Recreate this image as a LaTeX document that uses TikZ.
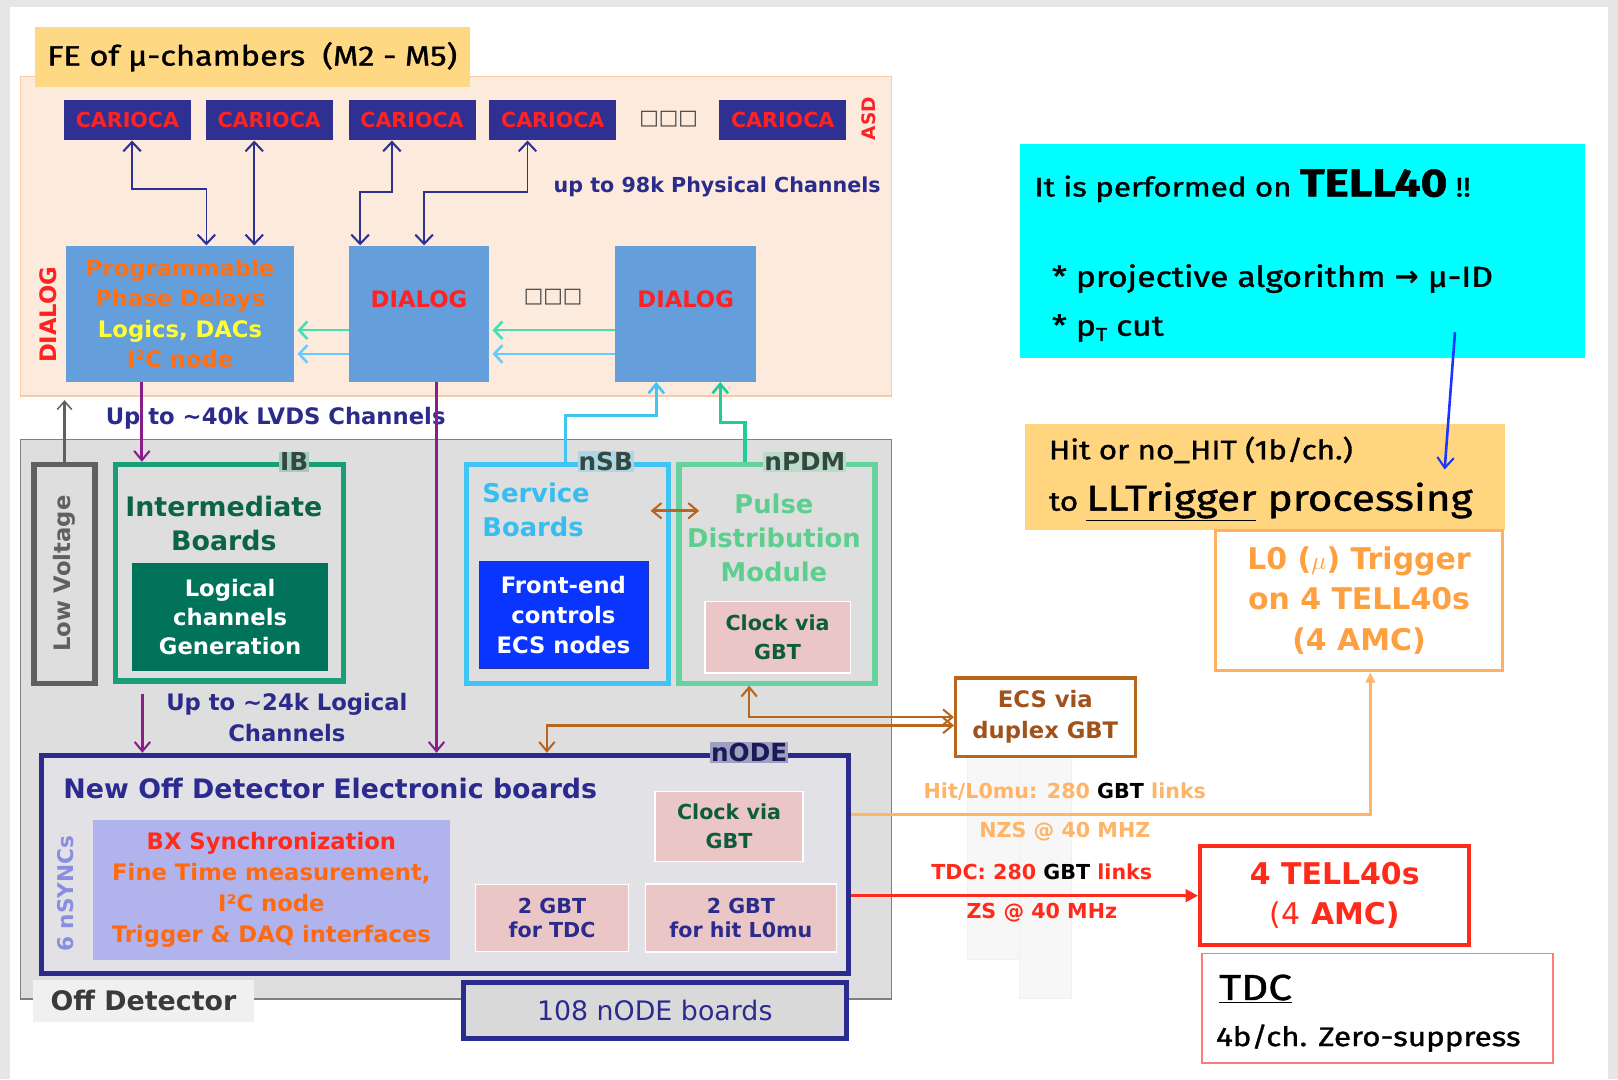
\documentclass[tikz,border=0pt]{standalone}
\usepackage{fontspec}
\setmainfont{DejaVu Sans}
\newfontfamily\rfont{Fira Sans}[FakeBold=1.2, FakeStretch=1.17]
\usetikzlibrary{arrows.meta,positioning}

\newcommand{\fsz}[2]{\fontsize{#1}{#2}\selectfont}

\definecolor{slidegray}{HTML}{E6E6E6}
\definecolor{cariocablue}{HTML}{2E3192}
\definecolor{navytext}{HTML}{2B2B8C}
\definecolor{asdred}{HTML}{FF2222}
\definecolor{dialogblue}{HTML}{649FDC}
\definecolor{peach}{HTML}{FCEADC}
\definecolor{peachline}{HTML}{F8C9A2}
\definecolor{titleorange}{HTML}{FFD884}
\definecolor{progorange}{HTML}{FF7014}
\definecolor{logicyellow}{HTML}{FFFF33}
\definecolor{arrowteal}{HTML}{44E0B4}
\definecolor{arrowsky}{HTML}{66CCFF}
\definecolor{purplelink}{HTML}{8A1C8C}
\definecolor{offgray}{HTML}{DEDEDE}
\definecolor{offline}{HTML}{808080}
\definecolor{lvgray}{HTML}{606060}
\definecolor{tagtext}{HTML}{34483F}
\definecolor{ibgreen}{HTML}{1A9E78}
\definecolor{ibdark}{HTML}{00735A}
\definecolor{ibtext}{HTML}{0B6446}
\definecolor{sbblue}{HTML}{3FC4F4}
\definecolor{sbtext}{HTML}{38BDF0}
\definecolor{feblue}{HTML}{0A35FF}
\definecolor{pdmgreen}{HTML}{66D39E}
\definecolor{pdmtext}{HTML}{5CCF8E}
\definecolor{uplinkgreen}{HTML}{22CC99}
\definecolor{gbtpink}{HTML}{EBC6C6}
\definecolor{clocktext}{HTML}{0D5C3C}
\definecolor{ecsbrown}{HTML}{B8651D}
\definecolor{ecstext}{HTML}{A0521A}
\definecolor{nodeblue}{HTML}{2B2B8F}
\definecolor{nodefill}{HTML}{E2E2E6}
\definecolor{boardgray}{HTML}{D9D9D9}
\definecolor{bxlav}{HTML}{B1B4EC}
\definecolor{syncslav}{HTML}{8A8EE0}
\definecolor{bxred}{HTML}{FF2A1A}
\definecolor{bxorange}{HTML}{FF6A10}
\definecolor{hitorange}{HTML}{FFB466}
\definecolor{tellred}{HTML}{FF2A1A}
\definecolor{tdcline}{HTML}{FF7A7A}
\definecolor{lzeroline}{HTML}{FFB060}
\definecolor{lzerotext}{HTML}{FFA040}
\definecolor{hitfill}{HTML}{FFD580}
\definecolor{tellcyan}{HTML}{00FFFF}
\definecolor{algoblue}{HTML}{1A35FF}
\definecolor{offlabel}{HTML}{F0F0F0}
\definecolor{offtext}{HTML}{3A3A3A}

\begin{document}
\begin{tikzpicture}[x=1pt, y=-1pt,
    carioca/.style={rectangle, fill=cariocablue, text=asdred, font=\bfseries\fsz{20}{22}, minimum width=123pt, minimum height=39pt, inner sep=0pt},
    dialog/.style={rectangle, fill=dialogblue, minimum height=132pt, inner sep=0pt},
    dlabel/.style={text=asdred, font=\bfseries\fsz{22}{22}},
    vlabel/.style={rotate=90, text=asdred, font=\bfseries\fsz{18}{18}},
    boxdots/.style={text=black!75, font=\fsz{20}{20}},
    board/.style={rectangle, line width=5pt, fill=offgray, minimum height=212pt, inner sep=0pt},
    tag/.style={text=tagtext, font=\bfseries\fsz{24}{24}, inner sep=1pt},
    pinkbox/.style={rectangle, fill=gbtpink, draw=white, line width=1.5pt, align=center, inner sep=0pt, font=\bfseries\fsz{20}{28}},
    note/.style={text=navytext, font=\bfseries\fsz{20}{30}},
    link/.style={<->, >={Straight Barb[length=9pt,width=17pt,line width=2pt]}, draw=cariocablue, line width=1.5pt},
    dlink/.style={->, >={Straight Barb[length=8pt,width=17pt,line width=2.5pt]}, line width=2.5pt, shorten >=3pt},
    purp/.style={->, >={Straight Barb[length=9pt,width=15pt,line width=2pt]}, draw=purplelink, line width=3pt},
    uplink/.style={->, >={Straight Barb[length=9pt,width=15pt,line width=2.5pt]}, line width=3pt},
    ecslink/.style={<->, >={Straight Barb[length=9pt,width=15pt,line width=2pt]}, draw=ecsbrown, line width=2.5pt},
    hitlink/.style={->, >={Triangle[length=10pt,width=9pt]}, draw=hitorange, line width=3pt},
    tdclink/.style={->, >={Triangle[length=12pt,width=12pt]}, draw=tellred, line width=3pt},
    ghost/.style={fill=black!3, draw=black!6, line width=1pt}]

    \useasboundingbox (0,0) rectangle (1568,1046);
    \fill[slidegray] (0,0) rectangle (1568,1046);
    \fill[white] (10,7) rectangle (1558,1046);

    % front end on the chambers
    \node[draw=peachline, fill=peach, line width=1.5pt, minimum width=844pt, minimum height=310pt, inner sep=0pt] (fe) at (442,229) {};
    \node[fill=titleorange, minimum width=421pt, minimum height=58pt, inner sep=0pt, font=\rfont\fsz{27}{27}] (title) at (244.5,55) {FE of µ-chambers\ \ (M2 - M5)};

    \node[carioca] (car1) at (123.5,116.5) {CARIOCA};
    \node[carioca, right=14pt of car1] (car2) {CARIOCA};
    \node[carioca, right=15pt of car2] (car3) {CARIOCA};
    \node[carioca, right=13pt of car3] (car4) {CARIOCA};
    \node[boxdots] (cdots) at (648,115) {□□□};
    \node[carioca] (car6) at (758.5,116.5) {CARIOCA};
    \node[vlabel] (asd) at (842,115) {ASD};

    \node[note, anchor=west] (phys) at (533,181) {up to 98k Physical Channels};

    \node[dialog, minimum width=221pt, align=center, font=\bfseries\fsz{22}{29.5}] (dia1) at (174.5,304)
        {\textcolor{progorange}{Programmable}\\ \textcolor{progorange}{Phase Delays}\\ \textcolor{logicyellow}{Logics, DACs}\\ \textcolor{progorange}{I²C node}};
    \node[dialog, minimum width=136pt] (dia2) at (406,304) {};
    \node[boxdots] (ddots) at (536,288) {□□□};
    \node[dialog, minimum width=137pt] (dia3) at (664.5,304) {};
    \node[dlabel] at ([yshift=14pt]dia2.center) {DIALOG};
    \node[dlabel] at ([yshift=14pt]dia3.center) {DIALOG};
    \node[vlabel, font=\bfseries\fsz{22}{22}] (dialogv) at (47,305) {DIALOG};

    % off detector part
    \node[draw=offline, fill=offgray, line width=1.5pt, minimum width=844pt, minimum height=542pt, inner sep=0pt] (off) at (442,697) {};
    \node[fill=offlabel, minimum width=214pt, minimum height=40pt, inner sep=0pt, text=offtext, font=\bfseries\fsz{26}{26}] (offlbl) at (139,970) {Off Detector};
    \node[note, anchor=west, font=\bfseries\fsz{22}{30}] (lvds) at (99,405) {Up to \textasciitilde40k LVDS Channels};

    \node[draw=lvgray, line width=5pt, fill=offgray, minimum width=59pt, minimum height=212pt, inner sep=0pt] (lowv) at (62.5,556) {};
    \node[rotate=90, text=lvgray, font=\bfseries\fsz{22}{22}] at (lowv.center) {Low Voltage};

    \node[board, draw=ibgreen, minimum width=221pt, minimum height=210pt] (ib) at (222.5,555) {};
    \node[tag, fill=ibgreen!30!offgray] at ([xshift=62.5pt]ib.north) {IB};
    \node[align=center, text=ibtext, font=\bfseries\fsz{26}{33}] at (217,507) {Intermediate\\Boards};
    \node[fill=ibdark, minimum width=190pt, minimum height=104pt, inner sep=0pt, text=white, align=center, font=\bfseries\fsz{22}{28.5}] (logic) at (223,598) {Logical\\channels\\Generation};

    \node[board, draw=sbblue, minimum width=196pt] (nsb) at (550,556) {};
    \node[tag, fill=sbblue!30!offgray] at ([xshift=37pt]nsb.north) {nSB};
    \node[anchor=west, align=left, text=sbtext, font=\bfseries\fsz{25}{33}] at (464,494) {Service\\Boards};
    \node[fill=feblue, draw=cariocablue, minimum width=164pt, minimum height=104pt, inner sep=0pt, text=white, align=center, font=\bfseries\fsz{22}{29}] (fecs) at (546,596) {Front-end\\controls\\ECS nodes};

    \node[board, draw=pdmgreen, minimum width=190pt] (npdm) at (753,556) {};
    \node[tag, fill=pdmgreen!30!offgray] at ([xshift=27pt]npdm.north) {nPDM};
    \node[align=center, text=pdmtext, font=\bfseries\fsz{25}{33}] at (750,521) {Pulse\\Distribution\\Module};
    \node[pinkbox, minimum width=141pt, minimum height=69pt, text=clocktext] (clk1) at (753.5,617.5) {Clock via\\GBT};

    \node[note, align=center, font=\bfseries\fsz{22}{30}] (logical) at (278,695) {Up to \textasciitilde24k Logical\\Channels};

    % nODE boards
    \node[draw=nodeblue, line width=5pt, fill=nodefill, minimum width=782pt, minimum height=211pt, inner sep=0pt] (ode) at (431,837.5) {};
    \node[tag, fill=nodeblue!35!offgray, text=nodeblue!60!black] at ([xshift=295pt]ode.north) {nODE};
    \node[anchor=west, text=nodeblue, font=\bfseries\fsz{26}{26}] at (58,764) {New Off Detector Electronic boards};
    \node[rotate=90, text=syncslav, font=\bfseries\fsz{21}{21}] at (64,866) {6 nSYNCs};
    \node[fill=bxlav, minimum width=346pt, minimum height=135pt, inner sep=0pt, align=center, font=\bfseries\fsz{22}{30}] (bx) at (263,862.5)
        {\textcolor{bxred}{BX Synchronization}\\ \textcolor{bxorange}{Fine Time measurement,}\\ \textcolor{bxorange}{I²C node}\\ \textcolor{bxorange}{Trigger \& DAQ interfaces}};
    \node[pinkbox, minimum width=143pt, minimum height=68pt, text=clocktext] (clk2) at (706.5,801) {Clock via\\GBT};
    \node[pinkbox, minimum width=148pt, minimum height=65pt, text=navytext, font=\bfseries\fsz{20}{24}] (gbt1) at (535,889.5) {2 GBT\\for TDC};
    \node[pinkbox, minimum width=185pt, minimum height=66pt, text=navytext, font=\bfseries\fsz{20}{24}, right=15pt of gbt1] (gbt2) {2 GBT\\for hit L0mu};
    \node[draw=nodeblue, line width=5pt, fill=boardgray, minimum width=371pt, minimum height=54pt, inner sep=0pt, text=nodeblue, font=\fsz{26}{26}] (b108) at (634.5,979) {108 nODE boards};

    % TELL40 side
    \fill[ghost] (938,733) rectangle (988,930);
    \fill[ghost] (988,733) rectangle (1038,968);
    \node[draw=ecsbrown, line width=3pt, fill=white, minimum width=174pt, minimum height=76pt, inner sep=0pt, text=ecstext, align=center, font=\bfseries\fsz{22}{30}] (ecs) at (1013,695) {ECS via\\duplex GBT};

    \node[fill=tellcyan, minimum width=548pt, minimum height=207pt, inner sep=0pt] (cyan) at (1262,243.5) {};
    \node[anchor=west, font=\rfont\fsz{26}{26}] at (999,180) {It is performed on {\bfseries\fsz{38}{38}TELL40} !!};
    \node[anchor=west, font=\rfont\fsz{28}{28}] at (1016,270) {* projective algorithm {\normalfont\bfseries →} µ-ID};
    \node[anchor=west, font=\rfont\fsz{28}{28}] at (1016,318) {* p\raisebox{-5pt}{\fsz{18}{18}T} cut};

    \node[fill=hitfill, minimum width=465pt, minimum height=103pt, inner sep=0pt] (hit) at (1225.5,462.5) {};
    \node[anchor=west, font=\rfont\fsz{26}{26}] at (1013,436) {Hit or no\_HIT (1b/ch.)};
    \node[anchor=west, font=\rfont\fsz{26}{26}] at (1013,486) {to {\fsz{35}{35}\underline{LLTrigger} processing}};

    \node[draw=lzeroline, line width=3pt, fill=white, minimum width=278pt, minimum height=136pt, inner sep=0pt, text=lzerotext, align=center, font=\bfseries\fsz{29}{39}] (lzero) at (1317,582) {L0 ({\mdseries$\mu$}) Trigger\\on 4 TELL40s\\(4 AMC)};
    \node[draw=tellred, line width=4pt, fill=white, minimum width=261pt, minimum height=96pt, inner sep=0pt, text=tellred, align=center, font=\bfseries\fsz{29}{39}] (tell4) at (1293.5,868) {4 TELL40s\\{\mdseries(4} AMC)};
    \node[draw=tdcline, line width=1.5pt, fill=white, minimum width=340pt, minimum height=106pt, inner sep=0pt] (tdc) at (1335,977) {};
    \node[anchor=west, font=\rfont\fsz{35}{35}] at (1178,958) {\underline{TDC}};
    \node[anchor=west, font=\rfont\fsz{26}{26}] at (1175,1006) {4b/ch. Zero-suppress};

    % connectors
    \draw[link] ([xshift=4.5pt]car1.south) -- ++(0,47) -| ([xshift=25.5pt]dia1.north);
    \draw[link] ([xshift=-14.5pt]car2.south) -- ([xshift=-14.5pt]car2.south |- dia1.north);
    \draw[link] ([xshift=-19.5pt]car3.south) -- ++(0,50) -| ([xshift=-57pt]dia2.north);
    \draw[link] ([xshift=-24.5pt]car4.south) -- ++(0,50) -| ([xshift=5pt]dia2.north);

    \draw[dlink, draw=arrowteal] ([yshift=-16pt]dia2.west) -- ([yshift=-16pt]dia1.east);
    \draw[dlink, draw=arrowsky] ([yshift=-39pt]dia2.west) -- ([yshift=-39pt]dia1.east);
    \draw[dlink, draw=arrowteal] ([yshift=-16pt]dia3.west) -- ([yshift=-16pt]dia2.east);
    \draw[dlink, draw=arrowsky] ([yshift=-39pt]dia3.west) -- ([yshift=-39pt]dia2.east);

    \draw[purp] ([xshift=-37pt]dia1.south) -- ([xshift=-37pt]dia1.south |- ib.north);
    \draw[purp] ([xshift=17pt]dia2.south) -- ([xshift=17pt]dia2.south |- ode.north);
    \draw[purp] ([xshift=-84.5pt,yshift=-10pt]ib.south) -- ([xshift=-84.5pt]ib.south |- ode.north);

    \draw[->, >={Straight Barb[length=8pt,width=14pt,line width=1.5pt]}, draw=lvgray, line width=2pt, shorten >=3pt] (lowv.north) -- (lowv.north |- fe.south);

    \draw[uplink, draw=sbblue] ([xshift=-2pt]nsb.north) -- ++(0,-45) -| ([xshift=-28.5pt]dia3.south);
    \draw[uplink, draw=uplinkgreen] ([xshift=-31pt]npdm.north) -- ++(0,-38) -| ([xshift=33.5pt]dia3.south);

    \draw[ecslink] ([xshift=-20pt,yshift=61pt]nsb.east) -- ([xshift=22pt,yshift=61pt]npdm.west);
    \draw[ecslink] ([xshift=-27pt]npdm.south) |- (ecs.west);
    \draw[ecslink] ([yshift=-8pt]ecs.west) -| ([xshift=99pt]ode.north);

    \draw[hitlink] ([yshift=48.5pt]ode.east) -| ([xshift=11pt]lzero.south)
        node[pos=0.206, yshift=22pt, font=\bfseries\fsz{20}{20}, text=hitorange] {Hit/L0mu: 280 \textcolor{black}{GBT} links}
        node[pos=0.206, yshift=-17pt, font=\bfseries\fsz{20}{20}, text=hitorange] {NZS @ 40 MHZ};
    \draw[tdclink] ([yshift=-30.5pt]ode.east) -- (tell4.west)
        node[pos=0.55, yshift=23pt, font=\bfseries\fsz{20}{20}, text=tellred] {TDC: 280 \textcolor{black}{GBT} links}
        node[pos=0.55, yshift=-16pt, font=\bfseries\fsz{20}{20}, text=tellred] {ZS @ 40 MHz};

    \coordinate (algo) at ([xshift=148pt,yshift=-78.5pt]cyan.center);
    \draw[->, >={Straight Barb[length=10pt,width=16pt,line width=2pt]}, draw=algoblue, line width=2.5pt] (algo) -- ([xshift=174.5pt,yshift=7.5pt]hit.center);

\end{tikzpicture}
\end{document}
